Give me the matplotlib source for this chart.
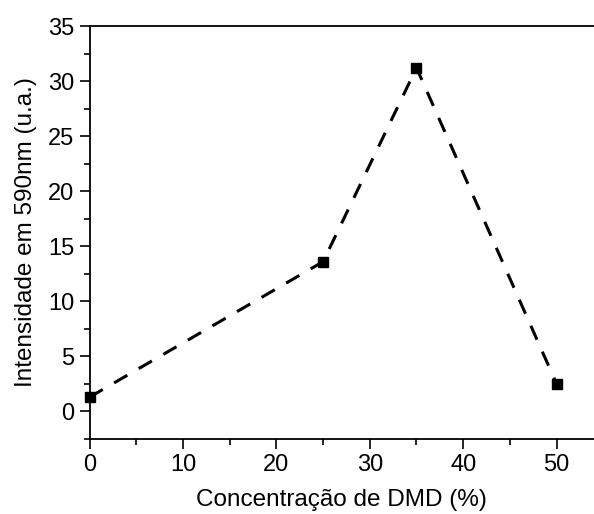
import matplotlib
matplotlib.use("Agg")
import matplotlib.pyplot as plt
from matplotlib.ticker import MultipleLocator

plt.rcParams['font.family'] = ['Liberation Sans', 'DejaVu Sans']

conc = [0, 25, 35, 50]
intensity = [1.3, 13.6, 31.2, 2.5]

fig = plt.figure(figsize=(5.94, 5.14), dpi=100)
ax = fig.add_axes([0.1507, 0.1459, 0.8493, 0.8035])
ax.plot(conc, intensity, linestyle=(0, (5.0, 4.3)), color='black', linewidth=2.2,
        marker='s', markersize=6.5, markerfacecolor='black', markeredgecolor='black',
        clip_on=False, zorder=3)
ax.set_xlim(0, 54)
ax.set_ylim(-2.5, 35)
ax.xaxis.set_major_locator(MultipleLocator(10))
ax.xaxis.set_minor_locator(MultipleLocator(5))
ax.yaxis.set_major_locator(MultipleLocator(5))
ax.yaxis.set_minor_locator(MultipleLocator(2.5))
ax.spines['right'].set_visible(False)
for s in ['left', 'bottom', 'top']:
    ax.spines[s].set_linewidth(1.3)
ax.tick_params(which='major', direction='out', length=7, width=1.2, labelsize=17, pad=4)
ax.tick_params(which='minor', direction='out', length=4, width=1.2)
ax.tick_params(top=False, right=False)
ax.set_xlabel('Concentração de DMD (%)', fontsize=17.5, labelpad=9)
ax.set_ylabel('Intensidade em 590nm (u.a.)', fontsize=17.5, labelpad=8)
fig.savefig('out.png', dpi=100)
